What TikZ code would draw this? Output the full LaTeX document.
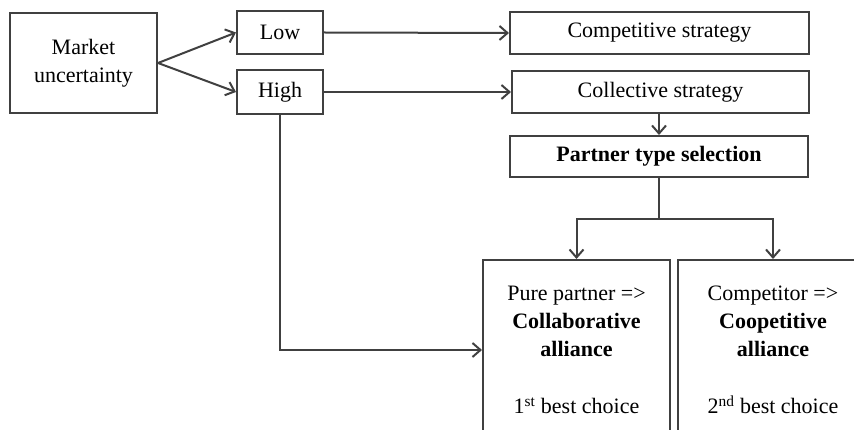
\documentclass[tikz,border=0pt]{standalone}
\usepackage{fontspec}
\setmainfont{Liberation Serif}
\usepackage{tikz}
\usetikzlibrary{arrows.meta}

\begin{document}
\begin{tikzpicture}[x=1pt,y=-1pt,>={Straight Barb[length=8pt,width=14pt]},
  line width=2pt,
  box/.style={draw=black!75,line width=2pt,inner sep=0pt,align=center,font=\fontsize{22}{28}\selectfont},
  link/.style={->,draw=black!75,line width=2pt}]
  \useasboundingbox (0,0) rectangle (854,430);
  \clip (0,0) rectangle (854,430);
  % market and its two levels
  \node[box,minimum width=147pt,minimum height=100pt] (market) at (83.5,63) {Market\\uncertainty};
  \node[box,minimum width=86pt,minimum height=43pt] (low) at (280,32.5) {Low};
  \node[box,minimum width=86pt,minimum height=44pt] (high) at (280,92) {High};
  % strategies
  \node[box,minimum width=299pt,minimum height=42pt] (compet) at (659.5,33) {Competitive strategy};
  \node[box,minimum width=297pt,minimum height=42pt] (collect) at (660.5,92) {Collective strategy};
  \node[box,minimum width=298pt,minimum height=41pt,font=\fontsize{22}{28}\selectfont\bfseries] (partner) at (659,156.5) {Partner type selection};
  % alliances, cut by the page bottom
  \node[box,minimum width=187pt,minimum height=180pt] (collab) at (576.5,350)
    {Pure partner =>\\\textbf{Collaborative}\\\textbf{alliance}\\[29pt]1\textsuperscript{st} best choice};
  \node[box,minimum width=190pt,minimum height=180pt] (coop) at (773,350)
    {Competitor =>\\\textbf{Coopetitive}\\\textbf{alliance}\\[29pt]2\textsuperscript{nd} best choice};
  \coordinate (split) at (659,219);
  % connectors
  \draw[link] (market.east) -- (low.west);
  \draw[link] (market.east) -- (high.west);
  \draw[link] (low.east) -- (compet.west);
  \draw[link] (high.east) -- (collect.west);
  \draw[link] (collect.south -| partner.north) -- (partner.north);
  \draw[draw=black!75] (partner.south) -- (split);
  \draw[link] (split) -| (collab.north);
  \draw[link] (split) -| (coop.north);
  \draw[link] (high.south) |- (collab.west);
\end{tikzpicture}
\end{document}
